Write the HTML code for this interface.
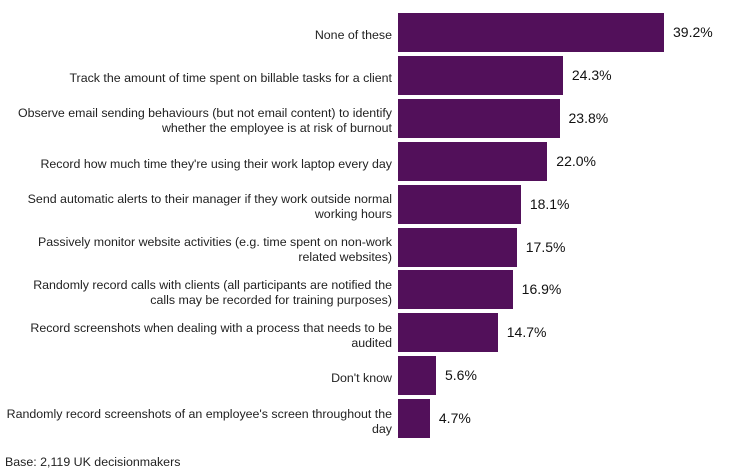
<!DOCTYPE html><html><head><style>
body{margin:0;width:741px;height:475px;background:#fff;font-family:"Liberation Sans",Arial,sans-serif;position:relative;overflow:hidden}
.b{position:absolute;left:398px;height:39px;background:#52105a}
.l{position:absolute;right:349px;width:392px;text-align:right;font-size:12.4px;line-height:15px;color:#222;display:flex;align-items:center;justify-content:flex-end;height:39px;margin-top:3px}
.v{position:absolute;font-size:14px;color:#111;height:39px;line-height:39px}
.base{position:absolute;left:5px;top:455px;font-size:12.4px;color:#222}
</style></head><body>
<div id="c"></div>
<div class="base">Base: 2,119 UK decisionmakers</div>
<script>
var d=[["None of these",39.2],["Track the amount of time spent on billable tasks for a client",24.3],["Observe email sending behaviours (but not email content) to identify<br>whether the employee is at risk of burnout",23.8],["Record how much time they're using their work laptop every day",22.0],["Send automatic alerts to their manager if they work outside normal<br>working hours",18.1],["Passively monitor website activities (e.g. time spent on non-work<br>related websites)",17.5],["Randomly record calls with clients (all participants are notified the<br>calls may be recorded for training purposes)",16.9],["Record screenshots when dealing with a process that needs to be<br>audited",14.7],["Don't know",5.6],["Randomly record screenshots of an employee's screen throughout the<br>day",4.7]];
var h="";d.forEach(function(r,i){var y=13+i*42.9,w=r[1]*6.786;
h+='<div class="b" style="top:'+y+'px;width:'+w+'px"></div><div class="l" style="top:'+y+'px"><span>'+r[0]+'</span></div><div class="v" style="top:'+y+'px;left:'+(398+w+9)+'px">'+r[1].toFixed(1)+'%</div>';});
document.getElementById("c").innerHTML=h;
</script></body></html>
